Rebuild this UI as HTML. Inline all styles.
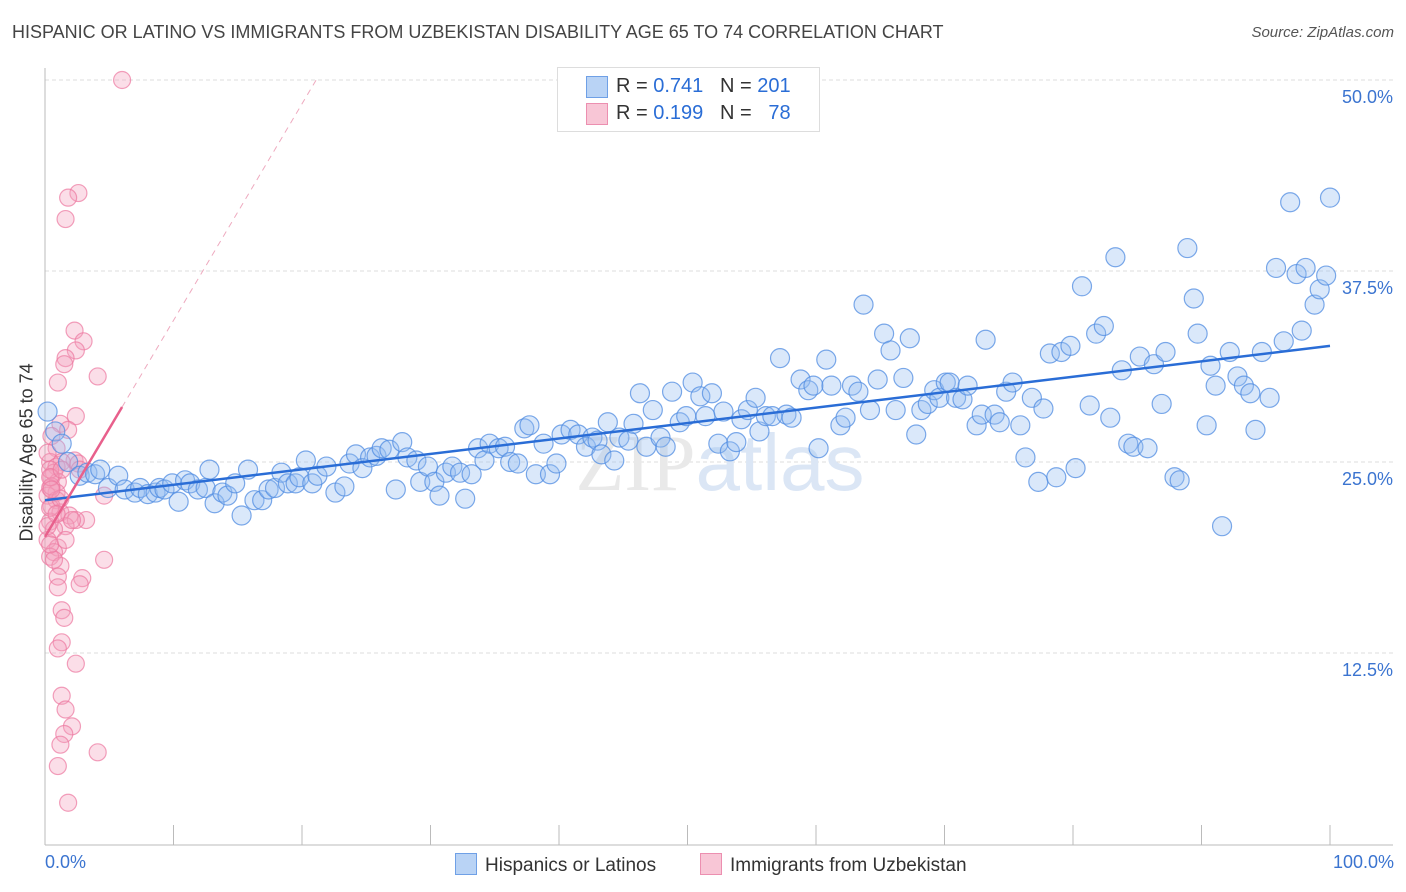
<!DOCTYPE html>
<html><head><meta charset="utf-8">
<style>
body{margin:0;background:#fff;font-family:"Liberation Sans",sans-serif;}
#wrap{position:relative;width:1406px;height:892px;overflow:hidden;}
.t{position:absolute;white-space:nowrap;}
</style></head>
<body>
<div id="wrap">
<div class="t" style="left:12px;top:22px;font-size:18px;color:#444;">HISPANIC OR LATINO VS IMMIGRANTS FROM UZBEKISTAN DISABILITY AGE 65 TO 74 CORRELATION CHART</div>
<div class="t" style="right:12px;top:24px;font-size:15px;color:#555;font-style:italic;">Source: ZipAtlas.com</div>
<svg id="svg" width="1406" height="892" style="position:absolute;left:0;top:0"></svg>
</div>
<script>
const blueX=[0.2,0.8,1.3,1.8,2.7,3.3,3.9,4.3,4.9,5.7,6.2,7.0,7.4,8.0,8.6,8.9,9.3,9.9,10.4,10.9,11.3,11.9,12.5,12.8,13.2,13.8,14.2,14.8,15.3,15.8,16.3,16.9,17.4,17.9,18.4,18.9,19.5,19.8,20.3,20.8,21.2,21.9,22.6,23.3,23.7,24.2,24.7,25.3,25.8,26.2,26.8,27.3,27.8,28.2,28.9,29.2,29.8,30.3,30.7,31.2,31.7,32.3,32.7,33.2,33.7,34.2,34.6,35.3,35.8,36.2,36.8,37.3,37.7,38.2,38.8,39.3,39.8,40.2,40.9,41.5,42.1,42.6,43.0,43.3,43.8,44.3,44.7,45.4,45.8,46.3,46.8,47.3,47.9,48.3,48.8,49.4,49.9,50.4,51.0,51.4,51.9,52.4,52.8,53.3,53.8,54.2,54.7,55.3,55.6,56.1,56.6,57.2,57.7,58.1,58.8,59.4,59.8,60.2,60.8,61.2,61.9,62.3,62.8,63.3,63.7,64.2,64.8,65.3,65.8,66.2,66.8,67.3,67.8,68.2,68.7,69.2,69.6,70.1,70.4,70.9,71.4,71.8,72.5,72.9,73.2,73.9,74.3,74.8,75.3,75.9,76.3,76.8,77.3,77.7,78.2,78.7,79.1,79.8,80.2,80.7,81.3,81.8,82.4,82.9,83.3,83.8,84.3,84.7,85.2,85.8,86.3,86.9,87.2,87.9,88.3,88.9,89.4,89.7,90.4,90.7,91.1,91.6,92.2,92.8,93.3,93.8,94.2,94.7,95.3,95.8,96.4,96.9,97.4,97.8,98.1,98.8,99.2,99.7,100];
const blueY=[28.3,27.0,26.2,25.0,24.1,24.3,24.2,24.5,23.3,24.1,23.2,23.0,23.3,22.9,23.0,23.3,23.2,23.6,22.4,23.8,23.6,23.2,23.3,24.5,22.3,23.0,22.8,23.6,21.5,24.5,22.5,22.5,23.2,23.3,24.3,23.6,23.6,24.0,25.1,23.6,24.1,24.7,23.0,23.4,24.9,25.5,24.6,25.3,25.4,25.9,25.8,23.2,26.3,25.3,25.1,23.7,24.7,23.7,22.8,24.3,24.7,24.3,22.6,24.2,25.9,25.1,26.2,25.9,26.0,25.0,24.9,27.2,27.4,24.2,26.2,24.2,24.9,26.8,27.1,26.8,26.0,26.6,26.4,25.5,27.6,25.1,26.6,26.4,27.5,29.5,26.0,28.4,26.6,26.0,29.6,27.6,28.0,30.2,29.3,28.0,29.5,26.2,28.3,25.7,26.3,27.8,28.4,29.2,27.0,28.0,28.0,31.8,28.1,27.9,30.4,29.7,30.0,25.9,31.7,30.0,27.4,27.9,30.0,29.6,35.3,28.4,30.4,33.4,32.3,28.4,30.5,33.1,26.8,28.4,28.8,29.7,29.2,30.2,30.2,29.2,29.1,30.0,27.4,28.1,33.0,28.1,27.6,29.6,30.2,27.4,25.3,29.2,23.7,28.5,32.1,24.0,32.2,32.6,24.6,36.5,28.7,33.4,33.9,27.9,38.4,31.0,26.2,26.0,31.9,25.9,31.4,28.8,32.2,24.0,23.8,39.0,35.7,33.4,27.4,31.3,30.0,20.8,32.2,30.6,30.0,29.5,27.1,32.2,29.2,37.7,32.9,42.0,37.3,33.6,37.7,35.3,36.3,37.2,42.3];
const pinkX=[6.0,2.6,1.8,1.6,2.3,3.0,2.4,1.6,1.5,1.0,4.1,2.4,1.2,1.8,0.5,0.9,2.3,1.3,0.4,2.6,0.9,0.7,0.5,1.0,0.4,0.9,4.6,0.2,0.9,0.5,1.2,1.9,3.2,2.4,0.4,1.6,0.7,0.2,1.0,0.7,0.4,4.6,1.2,1.0,2.9,2.7,1.0,1.3,1.5,1.3,1.0,2.4,1.3,1.6,2.1,1.5,1.2,4.1,1.0,1.8,0.4,0.5,0.4,0.2,0.7,0.4,0.2,1.2,2.1,1.6,0.4,0.9,0.5,1.3,2.7];
const pinkY=[50.0,42.6,42.3,40.9,33.6,32.9,32.3,31.8,31.4,30.2,30.6,28.0,27.5,27.1,26.7,25.9,25.1,25.0,25.0,24.9,24.7,24.3,24.0,23.7,23.3,23.0,22.8,22.8,22.5,22.1,21.7,21.5,21.2,21.2,21.1,20.8,20.6,19.9,19.4,19.1,18.8,18.6,18.2,17.5,17.4,17.0,16.8,15.3,14.8,13.2,12.8,11.8,9.7,8.8,7.7,7.2,6.5,6.0,5.1,2.7,24.5,23.4,22.0,20.8,18.6,19.6,25.6,22.6,21.2,19.9,24.0,21.6,23.2,24.5,24.5];
const blueLine=[[0,22.5],[100,32.6]];
const pinkLine=[[0,20.1],[6,28.6]];
const pinkDash=[[6,28.6],[21.1,50]];
const yTicks=[12.5,25.0,37.5,50.0];
const yTickLabels=["12.5%","25.0%","37.5%","50.0%"];
const xTicks=[0,10,20,30,40,50,60,70,80,90,100];

const X=v=>45+v*12.85;
const Y=v=>844-v*15.28;
const NS="http://www.w3.org/2000/svg";
const svg=document.getElementById('svg');
function mk(tag,attrs,parent){const e=document.createElementNS(NS,tag);for(const k in attrs)e.setAttribute(k,attrs[k]);(parent||svg).appendChild(e);return e;}

yTicks.forEach((t,i)=>{
 const g=mk('line',{x1:45,x2:1393,y1:Y(t),y2:Y(t),stroke:'#ddd','stroke-dasharray':'4,3','stroke-width':1});
 
 
 const tx=mk('text',{x:1393,y:Y(t)+23,'text-anchor':'end','font-size':18,fill:'#3b74d0','font-family':'Liberation Sans'});
 tx.textContent=yTickLabels[i];
 
 
});
const ax=mk('line',{x1:45,x2:45,y1:68,y2:845,stroke:'#bbb'});


const bx=mk('line',{x1:45,x2:1393,y1:845,y2:845,stroke:'#bbb'});


xTicks.forEach(t=>{
 const l=mk('line',{x1:X(t),x2:X(t),y1:825,y2:845,stroke:'#bbb'});
 
 
});
const wm=mk('text',{x:720,y:490,'text-anchor':'middle','font-size':80,fill:'#e8eef6','font-family':'Liberation Sans'});
wm.innerHTML='<tspan fill="#e9e9e9" font-family="Liberation Serif">ZIP</tspan><tspan fill="#dbe6f5">atlas</tspan>';


pinkX.forEach((v,i)=>{
 const c=mk('circle',{cx:X(v),cy:Y(pinkY[i]),r:8.5,fill:'rgba(244,160,190,0.35)',stroke:'rgba(236,120,160,0.7)','stroke-width':1.2});
 
 
});
blueX.forEach((v,i)=>{
 const c=mk('circle',{cx:X(v),cy:Y(blueY[i]),r:9.5,fill:'rgba(150,190,240,0.35)',stroke:'rgba(80,140,225,0.75)','stroke-width':1.2});
 
 
});
const bl=mk('line',{x1:X(blueLine[0][0]),y1:Y(blueLine[0][1]),x2:X(blueLine[1][0]),y2:Y(blueLine[1][1]),stroke:'#2a6dd6','stroke-width':2.5});


const pl=mk('line',{x1:X(pinkLine[0][0]),y1:Y(pinkLine[0][1]),x2:X(pinkLine[1][0]),y2:Y(pinkLine[1][1]),stroke:'#e8608c','stroke-width':2.5});


const pd=mk('line',{x1:X(pinkDash[0][0]),y1:Y(pinkDash[0][1]),x2:X(pinkDash[1][0]),y2:Y(pinkDash[1][1]),stroke:'#eeaabf','stroke-width':1,'stroke-dasharray':'6,5'});


</script>
<div class="t" style="left:45px;top:852px;font-size:18px;color:#3b74d0;">0.0%</div>
<div class="t" style="right:12px;top:852px;font-size:18px;color:#3b74d0;">100.0%</div>
<div class="t" style="left:-48px;top:456px;font-size:18px;color:#333;transform:rotate(-90deg);width:150px;text-align:center;">Disability Age 65 to 74</div>
<div style="position:absolute;left:557px;top:67px;width:261px;height:63px;border:1px solid #ddd;background:#fff;font-size:20px;color:#333;">
 <div style="position:absolute;left:28px;top:8px;width:20px;height:20px;background:#b9d3f5;border:1px solid #6fa0e6;"></div>
 <div class="t" style="left:58px;top:7px;">R = <span style="color:#2a6dd6">0.741</span>&nbsp;&nbsp;&nbsp;N = <span style="color:#2a6dd6">201</span></div>
 <div style="position:absolute;left:28px;top:35px;width:20px;height:20px;background:#f8c6d6;border:1px solid #ec8fb0;"></div>
 <div class="t" style="left:58px;top:34px;">R = <span style="color:#2a6dd6">0.199</span>&nbsp;&nbsp;&nbsp;N = &nbsp;&nbsp;<span style="color:#2a6dd6">78</span></div>
</div>
<div style="position:absolute;left:455px;top:853px;font-size:19px;color:#333;">
 <span style="display:inline-block;width:20px;height:20px;background:#b9d3f5;border:1px solid #6fa0e6;vertical-align:-4px;margin-right:8px;"></span>Hispanics or Latinos</div>
<div style="position:absolute;left:700px;top:853px;font-size:19px;color:#333;">
 <span style="display:inline-block;width:20px;height:20px;background:#f8c6d6;border:1px solid #ec8fb0;vertical-align:-4px;margin-right:8px;"></span>Immigrants from Uzbekistan</div>
</body></html>
